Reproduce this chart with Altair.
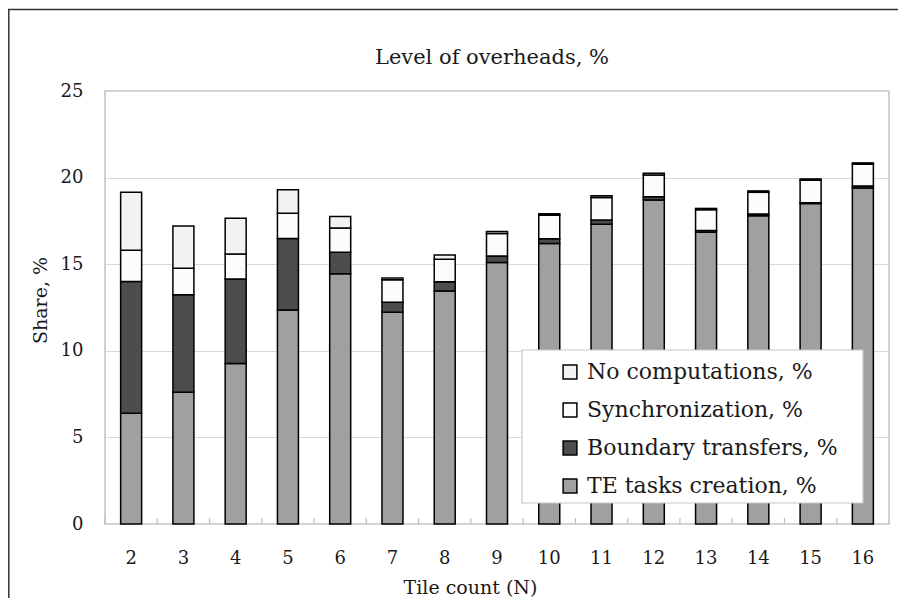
import altair as alt
import pandas as pd

tiles = ["2", "3", "4", "5", "6", "7", "8", "9", "10", "11", "12", "13", "14", "15", "16"]
te_tasks = [6.4, 7.6, 9.26, 12.36, 14.45, 12.23, 13.45, 15.1, 16.2, 17.3, 18.7, 16.85, 17.8, 18.5, 19.4]
boundary = [7.6, 5.63, 4.89, 4.13, 1.24, 0.57, 0.54, 0.37, 0.27, 0.25, 0.2, 0.1, 0.1, 0.05, 0.12]
sync = [1.8, 1.54, 1.44, 1.45, 1.4, 1.3, 1.29, 1.3, 1.35, 1.3, 1.25, 1.2, 1.25, 1.3, 1.25]
no_comp = [3.35, 2.43, 2.06, 1.36, 0.67, 0.1, 0.25, 0.12, 0.1, 0.1, 0.1, 0.07, 0.08, 0.07, 0.08]

chart_title = "Level of overheads, %"
series = ["TE tasks creation, %", "Boundary transfers, %", "Synchronization, %", "No computations, %"]
legend_order = ["No computations, %", "Synchronization, %", "Boundary transfers, %", "TE tasks creation, %"]
colors = {"No computations, %": "#f2f2f2", "Synchronization, %": "#fcfcfc",
          "Boundary transfers, %": "#4d4d4d", "TE tasks creation, %": "#a0a0a0"}

rows = []
for i, t in enumerate(tiles):
    for k, (name, vals) in enumerate(zip(series, [te_tasks, boundary, sync, no_comp])):
        rows.append({"tile": t, "series": name, "value": vals[i], "ord": k})
df = pd.DataFrame(rows)

W, H = 784, 433
FONT = "DejaVu Serif"

x_enc = alt.X("tile:N", sort=tiles,
              scale=alt.Scale(paddingInner=0, paddingOuter=0),
              axis=alt.Axis(title="Tile count (N)", labelAngle=0, labelPadding=25,
                            domain=False, ticks=False, labelFontSize=18,
                            labelFont=FONT, titleFont=FONT,
                            labelColor="#1a1a1a", titleColor="#1a1a1a",
                            titleFontSize=19, titleFontWeight="normal",
                            titleX=365, titleY=69, titleAlign="center",
                            titleBaseline="alphabetic"))

bars = alt.Chart(df).mark_bar(size=21, stroke="#000000", strokeWidth=1.5).encode(
    x=x_enc,
    y=alt.Y("value:Q", stack="zero",
            scale=alt.Scale(domain=[0, 25], nice=False),
            axis=alt.Axis(title="Share, %", values=[0, 5, 10, 15, 20, 25],
                          domain=False, ticks=False, labelFontSize=18, labelPadding=22,
                          labelFont=FONT, titleFont=FONT,
                          labelColor="#1a1a1a", titleColor="#1a1a1a",
                          gridColor="#d9d9d9", gridWidth=1.2,
                          titleFontSize=19, titleFontWeight="normal",
                          titleX=-65, titleY=209, titleAlign="center",
                          titleBaseline="middle")),
    fill=alt.Fill("series:N",
                  scale=alt.Scale(domain=legend_order, range=[colors[s] for s in legend_order]),
                  legend=alt.Legend(title=None, orient="none", legendX=417, legendY=259,
                                    padding=11, symbolOffset=26, symbolType="square",
                                    symbolSize=190, symbolStrokeColor="#000000",
                                    symbolStrokeWidth=1.5, labelFontSize=22,
                                    labelFont=FONT, labelColor="#1a1a1a",
                                    labelOffset=6, rowPadding=16, labelLimit=500)),
    order=alt.Order("ord:Q", sort="ascending"),
)

tick_df = pd.DataFrame({"tile": tiles})
ticks = alt.Chart(tick_df).mark_rule(color="#bfbfbf", strokeWidth=1.2).encode(
    x=alt.X("tile:N", sort=tiles, bandPosition=0),
    y=alt.value(H),
    y2=alt.value(H - 6),
)

frame_df = pd.DataFrame({"k": [0]})
legend_box = alt.Chart(frame_df).mark_rect(
    fill="#ffffff", stroke="#c8c8c8", strokeWidth=1.2
).encode(
    x=alt.value(417), x2=alt.value(758), y=alt.value(259), y2=alt.value(412)
)
left_border = alt.Chart(frame_df).mark_rule(color="#333333", strokeWidth=1.5).encode(
    x=alt.value(-96.2), y=alt.value(-81.5), y2=alt.value(H + 80)
)
top_border = alt.Chart(frame_df).mark_rule(color="#333333", strokeWidth=1.5).encode(
    x=alt.value(-97), x2=alt.value(W + 12), y=alt.value(-81.5)
)

title_df = pd.DataFrame({"t": [chart_title]})
title_text = alt.Chart(title_df).mark_text(
    font=FONT, fontSize=21, color="#1a1a1a", align="center", baseline="alphabetic"
).encode(
    text="t:N", x=alt.value(W / 2 - 5), y=alt.value(-27)
)

chart = alt.layer(bars, ticks, legend_box, left_border, top_border, title_text).properties(
    width=W, height=H,
    background="#ffffff",
    autosize=alt.AutoSizeParams(type="none"),
    padding={"left": 97, "top": 83, "right": 9, "bottom": 74},
).configure_view(
    stroke="#c0c0c0", strokeWidth=1.5
)

chart.save("out.html", embed_options={"renderer": "svg", "actions": False})
